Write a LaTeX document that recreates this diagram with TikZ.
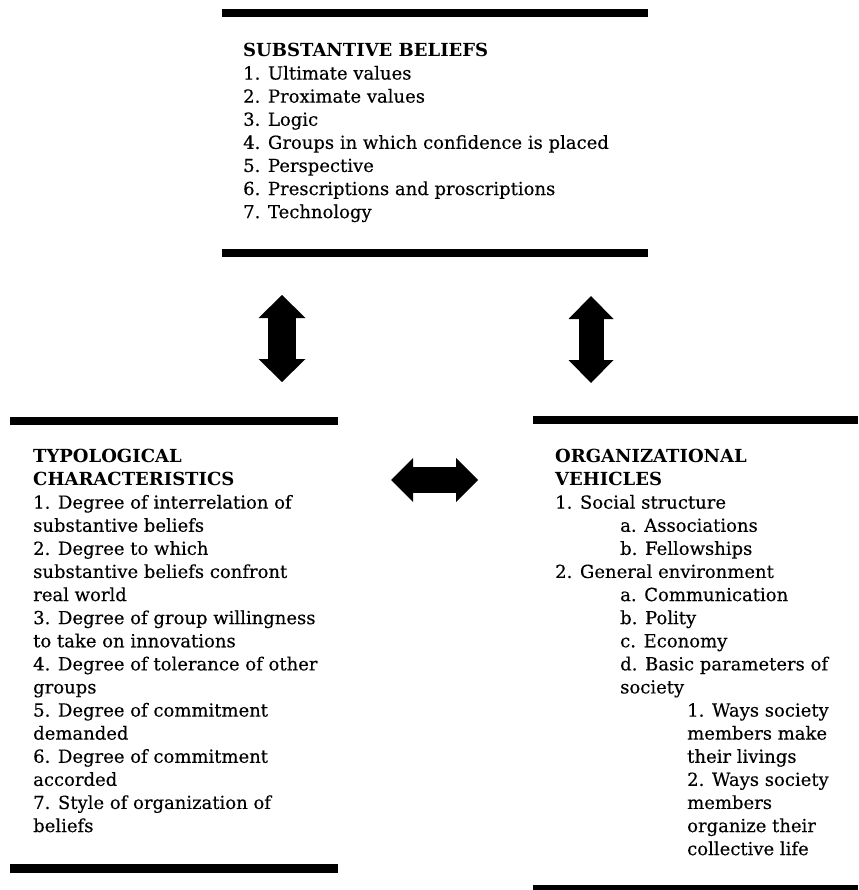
\documentclass[tikz,border=0pt]{standalone}
\usepackage{fontspec}
\setmainfont{DejaVu Serif}[UprightFeatures={FakeBold=0.3}]
\usetikzlibrary{arrows.meta}
\begin{document}
\begin{tikzpicture}[x=1pt,y=-1pt,
  bar/.style={fill=black},
  block/.style={inner sep=0pt, anchor=north west, align=left,
    font=\fontsize{18}{23.1}\selectfont},
  fatarrow/.style={line width=#1, line cap=butt}]
\useasboundingbox (0,0) rectangle (858,890);

% bars
\fill[bar] (222,9) rectangle (648,17);
\fill[bar] (222,249) rectangle (648,257);
\fill[bar] (10,417) rectangle (338,425);
\fill[bar] (10,864) rectangle (338,873);
\fill[bar] (533,416) rectangle (858,424);
\fill[bar] (533,885) rectangle (858,890);

% blocks
\node[block] (sb) at (243,42.9) {{\bfseries SUBSTANTIVE BELIEFS}\\
1. Ultimate values\\
2. Proximate values\\
3. Logic\\
4. Groups in which confidence is placed\\
5. Perspective\\
6. Prescriptions and proscriptions\\
7. Technology};

\node[block] (tc) at (33,448.9) {{\bfseries TYPOLOGICAL}\\
{\bfseries CHARACTERISTICS}\\
1. Degree of interrelation of\\
substantive beliefs\\
2. Degree to which\\
substantive beliefs confront\\
real world\\
3. Degree of group willingness\\
to take on innovations\\
4. Degree of tolerance of other\\
groups\\
5. Degree of commitment\\
demanded\\
6. Degree of commitment\\
accorded\\
7. Style of organization of\\
beliefs};

\node[block] (ov) at (555,448.9) {{\bfseries ORGANIZATIONAL}\\
{\bfseries VEHICLES}\\
1. Social structure\\
\hspace*{65pt}a. Associations\\
\hspace*{65pt}b. Fellowships\\
2. General environment\\
\hspace*{65pt}a. Communication\\
\hspace*{65pt}b. Polity\\
\hspace*{65pt}c. Economy\\
\hspace*{65pt}d. Basic parameters of\\
\hspace*{65pt}society\\
\hspace*{132pt}1. Ways society\\
\hspace*{132pt}members make\\
\hspace*{132pt}their livings\\
\hspace*{132pt}2. Ways society\\
\hspace*{132pt}members\\
\hspace*{132pt}organize their\\
\hspace*{132pt}collective life};

% arrow end points
\coordinate (l1) at (282,295);
\coordinate (l2) at (282,382);
\coordinate (r1) at (591,296);
\coordinate (r2) at (591,383);
\coordinate (h1) at (391,480);
\coordinate (h2) at (478,480);

\draw[fatarrow=28pt, {Triangle[length=23pt,width=47pt,line width=0pt]}-{Triangle[length=23pt,width=47pt,line width=0pt]}] (l1) -- (l2);
\draw[fatarrow=25pt, {Triangle[length=23pt,width=45pt,line width=0pt]}-{Triangle[length=23pt,width=45pt,line width=0pt]}] (r1) -- (r2);
\draw[fatarrow=26pt, {Triangle[length=22pt,width=44pt,line width=0pt]}-{Triangle[length=22pt,width=44pt,line width=0pt]}] (h1) -- (h2);
\end{tikzpicture}
\end{document}
